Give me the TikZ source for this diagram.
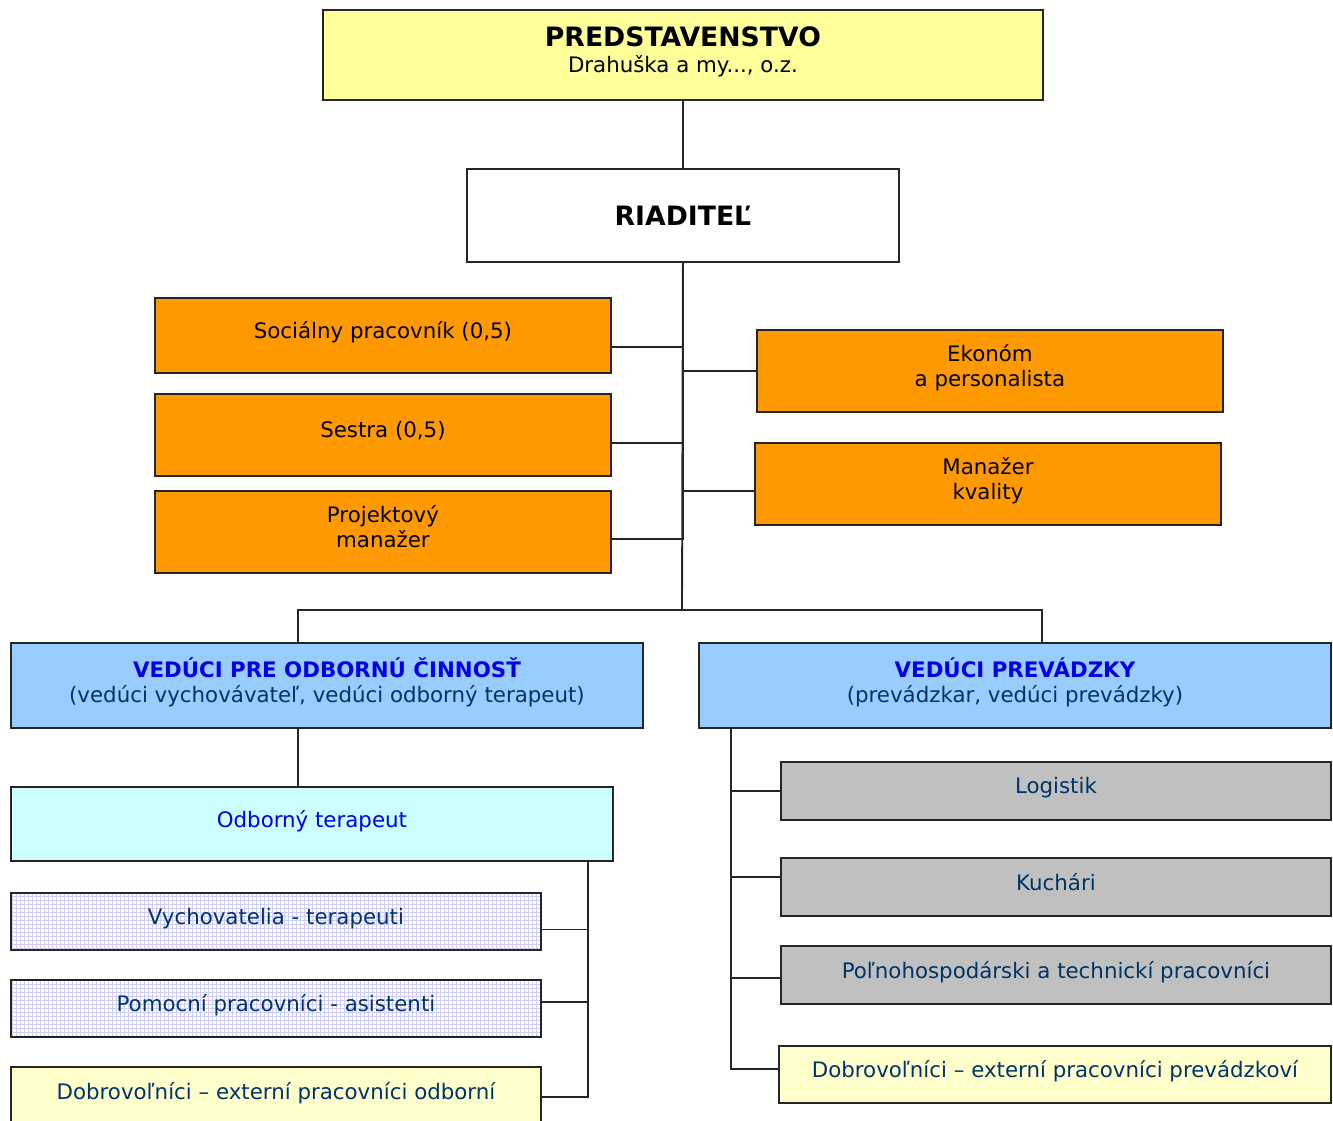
\documentclass[tikz,border=0pt]{standalone}
\usepackage{fontspec}
\setmainfont{DejaVu Sans}
\usetikzlibrary{patterns}

\definecolor{myel}{RGB}{255, 255, 153}
\definecolor{mora}{RGB}{255, 153, 0}
\definecolor{mblu}{RGB}{153, 204, 255}
\definecolor{mcya}{RGB}{204, 255, 255}
\definecolor{mgra}{RGB}{192, 192, 192}
\definecolor{mcre}{RGB}{255, 255, 204}
\definecolor{mlav}{RGB}{206, 206, 244}
\definecolor{mnav}{RGB}{0, 51, 102}
\definecolor{mhead}{RGB}{0, 0, 230}

\tikzset{
	plainbox/.style={draw=black!85, line width=1.4pt, anchor=north west, align=center,
			inner sep=0pt, font=\fontsize{16}{19}\selectfont},
	box/.style={plainbox, execute at end node={\vrule height 0pt depth 8pt width 0pt}},
	bsize/.style 2 args={minimum width=#1*0.75pt, minimum height=#2*0.75pt},
	orabox/.style={box, fill=mora},
	grabox/.style={box, fill=mgra, text=mnav},
	crebox/.style={box, fill=mcre, text=mnav},
	patbox/.style={box, preaction={fill=white}, pattern=grid, pattern color=mlav, text=mnav},
	conn/.style={line width=1.4pt, black!85},
}

\begin{document}
\begin{tikzpicture}[x=0.75pt, y=-0.75pt]
	\useasboundingbox (0,0) rectangle (1333,1120);

	% --- top ---
	\node[box, fill=myel, bsize={720}{90}] (pred) at (322,9)
		{{\fontsize{20}{24}\selectfont\bfseries PREDSTAVENSTVO}\\Drahuška a my..., o.z.};
	\node[plainbox, fill=white, bsize={432}{93}, font=\fontsize{20}{24}\selectfont\bfseries] (riad) at (466,168) {RIADITEĽ};

	% staff beside the director
	\node[orabox, bsize={456}{75}] (soc) at (154,297) {Sociálny pracovník (0,5)};
	\node[orabox, bsize={456}{82}] (ses) at (154,393) {Sestra (0,5)};
	\node[orabox, bsize={456}{82}] (proj) at (154,490) {Projektový\\ manažer};
	\node[orabox, bsize={466}{82}] (ekon) at (756,329) {Ekonóm\\a personalista};
	\node[orabox, bsize={466}{82}] (kval) at (754,442) {Manažer\\kvality};

	% --- heads ---
	\node[box, fill=mblu, text=mnav, bsize={632}{85}] (vodb) at (10,642)
		{\textcolor{mhead}{\bfseries VEDÚCI PRE ODBORNÚ ČINNOSŤ}\\(vedúci vychovávateľ, vedúci odborný terapeut)};
	\node[box, fill=mblu, text=mnav, bsize={632}{85}] (vprev) at (698,642)
		{\textcolor{mhead}{\bfseries VEDÚCI PREVÁDZKY}\\(prevádzkar, vedúci prevádzky)};

	% left branch
	\node[box, fill=mcya, text=mhead, bsize={602}{74}] (ter) at (10,786) {Odborný terapeut};
	\node[patbox, bsize={530}{57}] (vych) at (10,892) {Vychovatelia - terapeuti};
	\node[patbox, bsize={530}{57}] (pom) at (10,979) {Pomocní pracovníci - asistenti};
	\node[crebox, bsize={530}{58}] (dobo) at (10,1066) {Dobrovoľníci – externí pracovníci odborní};

	% right branch
	\node[grabox, bsize={550}{58}] (log) at (780,761) {Logistik};
	\node[grabox, bsize={550}{58}] (kuch) at (780,857) {Kuchári};
	\node[grabox, bsize={550}{58}] (poln) at (780,945) {Poľnohospodárski a technickí pracovníci};
	\node[crebox, bsize={552}{57}] (dobp) at (778,1045) {Dobrovoľníci – externí pracovníci prevádzkoví};

	\coordinate (bar) at (682,610);
	\coordinate (lx) at (298,610);
	\coordinate (rx) at (1042,610);
	\coordinate (tx) at (588,0);
	\coordinate (px) at (731,0);

	% --- connectors ---
	\draw[conn] (pred) -- (riad);
	\draw[conn] (riad.south) -- (bar);
	\draw[conn] ([yshift=-8.5pt]soc.east) -| (riad.south);
	\draw[conn] ([yshift=-6pt]ses.east) -| (riad.south);
	\draw[conn] ([yshift=-5pt]proj.east) -| (riad.south);
	\draw[conn] (ekon.west) -| (riad.south);
	\draw[conn] ([yshift=-5pt]kval.west) -| (riad.south);
	\draw[conn] (vodb.north -| lx) |- (bar) -| (vprev.north -| rx);
	\draw[conn] (vodb.south -| lx) -- (ter.north -| lx);

	\draw[conn] ([yshift=-6pt]vych.east) -| (ter.south -| tx);
	\draw[conn] ([yshift=5pt]pom.east) -| (ter.south -| tx);
	\draw[conn] ([yshift=-1pt]dobo.east) -| (ter.south -| tx);

	\draw[conn] (log.west) -| (vprev.south -| px);
	\draw[conn] ([yshift=7.5pt]kuch.west) -| (vprev.south -| px);
	\draw[conn] ([yshift=-2pt]poln.west) -| (vprev.south -| px);
	\draw[conn] ([yshift=4pt]dobp.west) -| (vprev.south -| px);

\end{tikzpicture}
\end{document}
